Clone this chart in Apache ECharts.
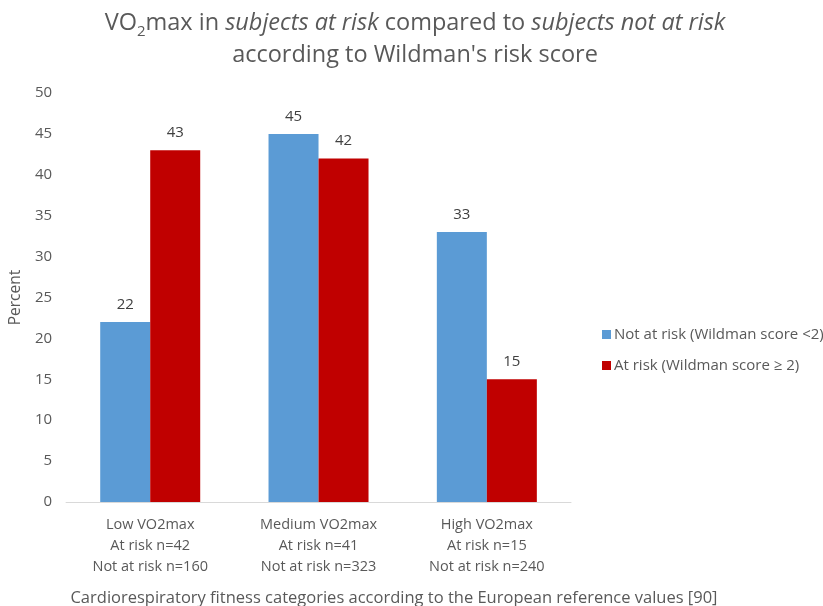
<!DOCTYPE html>
<html>
<head>
<meta charset="utf-8">
<script src="https://cdn.jsdelivr.net/npm/echarts@6/dist/echarts.min.js"></script>
<style>
  html, body { margin: 0; padding: 0; background: #fff; }
  #chart { width: 823px; height: 606px; }
</style>
</head>
<body>
<div id="chart"></div>
<script>
// Fitness categories with group sizes
const categories = [
  'Low VO2max\nAt risk n=42\nNot at risk n=160',
  'Medium VO2max\nAt risk n=41\nNot at risk n=323',
  'High VO2max\nAt risk n=15\nNot at risk n=240'
];
const notAtRiskName = 'Not at risk (Wildman score <2)';
const atRiskName = 'At risk (Wildman score \u2265 2)';
const notAtRisk = [22, 45, 33];
const atRisk = [43, 42, 15];
const yTicks = { min: 0, max: 50, interval: 5 };

const FONT = '"Open Sans", Lato, sans-serif';
const textGrey = '#595959';

const chart = echarts.init(document.getElementById('chart'), null, { renderer: 'canvas' });

const labelStyle = {
  show: true,
  position: 'top',
  distance: 10,
  color: '#404040',
  fontSize: 15,
  fontFamily: FONT
};

chart.setOption({
  backgroundColor: '#ffffff',
  animation: false,
  title: [
    {
      left: 410,
      top: 2,
      textAlign: 'center',
      text: '{a|VO}{s|2}{a|max in }{i|subjects at risk}{a| compared to }{i|subjects not at risk}\n{a|according to Wildman\'s risk score}',
      textStyle: {
        fontWeight: 'normal',
        rich: {
          a: { fontSize: 23.5, fontFamily: FONT, fontWeight: 'normal', color: textGrey, lineHeight: 32 },
          i: { fontSize: 23.5, fontFamily: FONT, fontWeight: 'normal', color: textGrey, fontStyle: 'italic', lineHeight: 32 },
          s: { fontSize: 15, fontFamily: FONT, fontWeight: 'normal', color: textGrey, lineHeight: 22, verticalAlign: 'bottom' }
        }
      }
    },
    {
      left: 389,
      top: 585,
      textAlign: 'center',
      text: 'Cardiorespiratory fitness categories according to the European reference values [90]',
      textStyle: { fontSize: 16.5, fontWeight: 'normal', fontFamily: FONT, color: textGrey }
    }
  ],
  legend: {
    orient: 'vertical',
    left: 597,
    top: 322,
    itemWidth: 9,
    itemHeight: 9,
    itemGap: 16,
    icon: 'rect',
    textStyle: { fontSize: 15, fontFamily: FONT, color: textGrey, padding: [0, 0, 0, -2] },
    data: [notAtRiskName, atRiskName]
  },
  grid: { left: 65, right: 252, top: 93, bottom: 104, containLabel: false },
  xAxis: {
    type: 'category',
    data: categories,
    axisLine: { show: true, lineStyle: { color: '#d9d9d9', width: 1 } },
    axisTick: { show: false },
    axisLabel: {
      color: textGrey,
      fontSize: 14.5,
      fontFamily: FONT,
      lineHeight: 21,
      margin: 12,
      interval: 0
    }
  },
  yAxis: {
    type: 'value',
    min: yTicks.min,
    max: yTicks.max,
    interval: yTicks.interval,
    name: 'Percent',
    nameLocation: 'middle',
    nameGap: 40,
    nameRotate: 90,
    nameTextStyle: { fontSize: 15.5, fontFamily: FONT, color: textGrey },
    axisLine: { show: false },
    axisTick: { show: false },
    splitLine: { show: false },
    axisLabel: { color: textGrey, fontSize: 15, fontFamily: FONT, margin: 14 }
  },
  series: [
    {
      name: notAtRiskName,
      type: 'bar',
      data: notAtRisk,
      barWidth: 50,
      barGap: '0%',
      itemStyle: { color: '#5b9bd5' },
      label: labelStyle
    },
    {
      name: atRiskName,
      type: 'bar',
      data: atRisk,
      barWidth: 50,
      barGap: '0%',
      itemStyle: { color: '#c00000' },
      label: labelStyle
    }
  ]
});
</script>
</body>
</html>
